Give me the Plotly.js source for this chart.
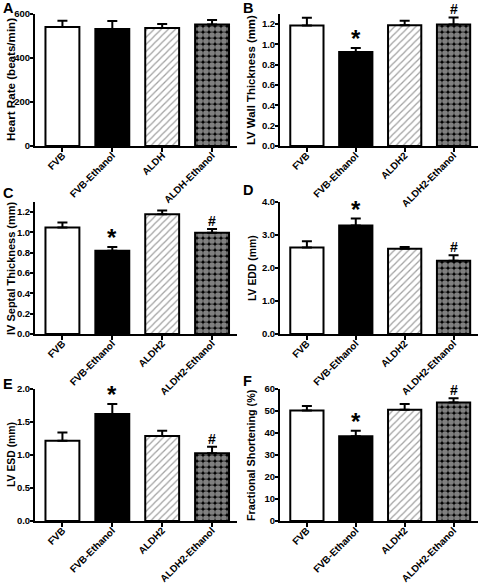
<!DOCTYPE html>
<html>
<head>
<meta charset="utf-8">
<script src="https://cdn.plot.ly/plotly-3.0.1.min.js"></script>
<style>html,body{margin:0;padding:0;background:#fff;}#chart{width:480px;height:583px;}</style>
</head>
<body>
<div id="chart"></div>
<script>
// ---- data ----
const catsA = ["FVB", "FVB-Ethanol", "ALDH", "ALDH-Ethanol"];
const catsB = ["FVB", "FVB-Ethanol", "ALDH2", "ALDH2-Ethanol"];

const heartRate = [541, 532, 536, 552];
const heartRateErr = [28, 36, 19, 21];

const wallThick = [1.187, 0.925, 1.19, 1.197];
const wallThickErr = [0.075, 0.039, 0.043, 0.069];

const septalThick = [1.049, 0.82, 1.18, 0.997];
const septalThickErr = [0.049, 0.036, 0.036, 0.036];

const lvEDD = [2.62, 3.29, 2.58, 2.22];
const lvEDDErr = [0.19, 0.21, 0.06, 0.17];

const lvESD = [1.217, 1.621, 1.288, 1.025];
const lvESDErr = [0.125, 0.152, 0.081, 0.10];

const fracShort = [50.2, 38.5, 50.6, 53.9];
const fracShortErr = [2.1, 2.5, 2.6, 1.9];

const panelTitles = ["Heart Rate (beats/min)", "LV Wall Thickness (mm)", "IV Septal Thickness (mm)",
  "LV EDD (mm)", "LV ESD (mm)", "Fractional Shortening (%)"];
const panelLetters = ["A", "B", "C", "D", "E", "F"];
// significance marks: [category index, symbol]
const sigMarks = [[], [[1, "*"], [3, "#"]], [[1, "*"], [3, "#"]], [[1, "*"], [3, "#"]], [[1, "*"], [3, "#"]], [[1, "*"], [3, "#"]]];

// ---- styling ----
const FONT = "Liberation Sans, Arial, sans-serif";
const W = 480, H = 583;
const colsPx = [[35, 237], [280, 478]];
const rowsPx = [[14, 146], [202, 334], [389, 521]];
const letterY = [[8.5, 8.5], [193, 190], [384, 381]];
const titleX = [11, 251, 11, 252, 12, 251];
const titleSizes = [11.6, 11.4, 11, 10.4, 10.4, 10.8];
const panels = [
  {cats: catsA, y: heartRate, e: heartRateErr, range: [0, 600], dtick: 200, fmt: "d"},
  {cats: catsB, y: wallThick, e: wallThickErr, range: [0, 1.3], dtick: 0.2, fmt: ".1f"},
  {cats: catsB, y: septalThick, e: septalThickErr, range: [0, 1.3], dtick: 0.2, fmt: ".1f"},
  {cats: catsB, y: lvEDD, e: lvEDDErr, range: [0, 4], dtick: 1, fmt: ".1f"},
  {cats: catsB, y: lvESD, e: lvESDErr, range: [0, 2], dtick: 0.5, fmt: ".1f"},
  {cats: catsB, y: fracShort, e: fracShortErr, range: [0, 60], dtick: 10, fmt: "d"}
];

const data = [];
const layout = {
  width: W, height: H,
  margin: {l: 0, r: 0, t: 0, b: 0},
  paper_bgcolor: "#fff", plot_bgcolor: "#fff",
  showlegend: false,
  font: {family: FONT, color: "#000", weight: "bold"},
  annotations: []
};

panels.forEach((p, i) => {
  const col = i % 2, row = Math.floor(i / 2);
  const n = i + 1;
  const xa = "x" + (n === 1 ? "" : n), ya = "y" + (n === 1 ? "" : n);
  data.push({
    type: "bar", x: p.cats, y: p.y, xaxis: xa, yaxis: ya, width: 0.68,
    marker: {
      color: ["#fff", "#000", "#fff", "#000"],
      line: {color: "#000", width: 2},
      pattern: {
        shape: ["", "", "/", "."],
        fgcolor: ["#000", "#000", "#8a8a8a", "#fff"],
        bgcolor: ["#fff", "#000", "#fff", "#000"],
        size: [6, 6, 5, 6],
        solidity: [0.3, 0.3, 0.25, 0.72],
        fillmode: "overlay"
      }
    },
    error_y: {type: "data", symmetric: false, array: p.e, arrayminus: p.e.map(() => 0),
      color: "#000", thickness: 2, width: 5},
    hoverinfo: "none"
  });
  const xk = "xaxis" + (n === 1 ? "" : n), yk = "yaxis" + (n === 1 ? "" : n);
  layout[xk] = {
    domain: [colsPx[col][0] / W, colsPx[col][1] / W],
    anchor: ya, type: "category", range: [-0.55, 3.5],
    showline: true, linewidth: 2, linecolor: "#000",
    ticks: "outside", ticklen: 4, tickwidth: 2, tickcolor: "#000",
    ticklabelstandoff: -6,
    tickangle: -45, tickfont: {family: FONT, size: 9.9, weight: "bold"},
    showgrid: false, zeroline: false, fixedrange: true
  };
  layout[yk] = {
    domain: [(H - rowsPx[row][1]) / H, (H - rowsPx[row][0]) / H],
    anchor: xa, range: p.range, dtick: p.dtick, tick0: 0, tickformat: p.fmt,
    showline: true, linewidth: 2, linecolor: "#000",
    ticks: "outside", ticklen: 3, tickwidth: 2, tickcolor: "#000",
    ticklabelstandoff: -2,
    tickfont: {family: FONT, size: 9.5, weight: "bold"},
    showgrid: false, zeroline: false, fixedrange: true
  };
  // y-axis title (placed as rotated text left of the axis)
  layout.annotations.push({
    xref: "paper", yref: "paper", x: titleX[i] / W,
    y: (H - (rowsPx[row][0] + rowsPx[row][1]) / 2) / H,
    xanchor: "center", yanchor: "middle", textangle: -90, showarrow: false,
    text: panelTitles[i], font: {family: FONT, size: titleSizes[i], weight: "bold", color: "#000"}
  });
  // panel letter
  layout.annotations.push({
    xref: "paper", yref: "paper", x: col === 0 ? 0.002 : 0.503,
    y: (H - letterY[row][col]) / H,
    xanchor: "left", yanchor: "middle", showarrow: false,
    text: panelLetters[i], font: {family: FONT, size: 14.5, weight: "bold", color: "#000"}
  });
  // significance marks
  sigMarks[i].forEach(([k, s]) => {
    layout.annotations.push({
      xref: xa, yref: ya, x: p.cats[k], y: p.y[k] + p.e[k],
      xanchor: "center", yanchor: "bottom", showarrow: false,
      yshift: s === "*" ? -6 : -2,
      text: s, font: {family: FONT, size: s === "*" ? 24 : 14, weight: "bold", color: "#000"}
    });
  });
});

Plotly.newPlot("chart", data, layout, {displayModeBar: false, staticPlot: true});
</script>
</body>
</html>
